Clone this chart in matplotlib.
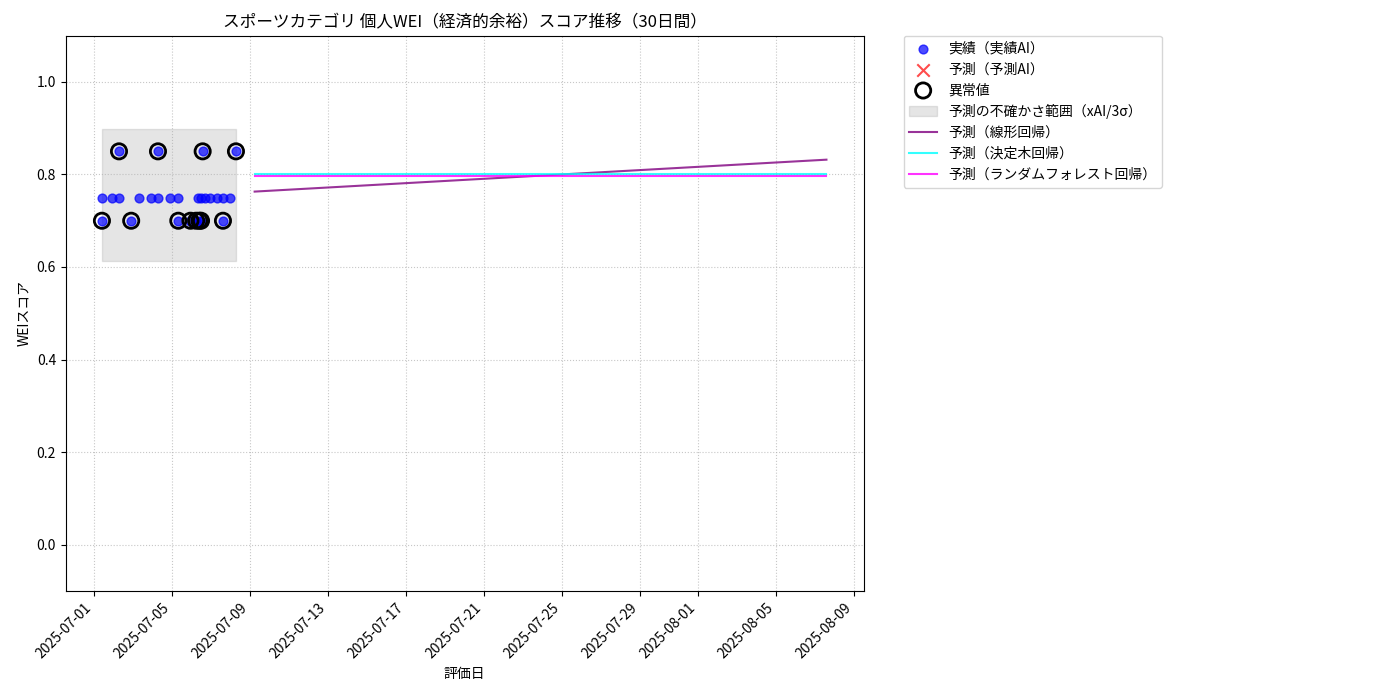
import pandas as pd
import matplotlib.pyplot as plt
import matplotlib.dates as mdates

plt.rcParams['font.family'] = ['Noto Sans CJK JP', 'DejaVu Sans']

# 実績データ
actual_dates = ['2025-07-01 10:00', '2025-07-01 22:00', '2025-07-02 07:00', '2025-07-02 07:00',
                '2025-07-02 22:00', '2025-07-03 08:00', '2025-07-03 23:00', '2025-07-04 07:00',
                '2025-07-04 07:00', '2025-07-04 22:00', '2025-07-05 08:00', '2025-07-05 08:00',
                '2025-07-05 23:00', '2025-07-06 06:00', '2025-07-06 08:00', '2025-07-06 10:00',
                '2025-07-06 12:00', '2025-07-06 12:00', '2025-07-06 14:00', '2025-07-06 17:00',
                '2025-07-06 23:00', '2025-07-07 08:00', '2025-07-07 15:00', '2025-07-07 15:00',
                '2025-07-08 00:00', '2025-07-08 07:00', '2025-07-01 10:00']
actual_values = [0.75, 0.75, 0.75, 0.85,
                 0.70, 0.75, 0.75, 0.75,
                 0.85, 0.75, 0.75, 0.70,
                 0.70, 0.70, 0.75, 0.70,
                 0.75, 0.70, 0.85, 0.75,
                 0.75, 0.75, 0.75, 0.70,
                 0.75, 0.85, 0.70]
outlier_dates = ['2025-07-01 10:00', '2025-07-02 07:00', '2025-07-02 22:00', '2025-07-04 07:00',
                 '2025-07-05 08:00', '2025-07-05 23:00', '2025-07-06 06:00', '2025-07-06 10:00',
                 '2025-07-06 12:00', '2025-07-06 14:00', '2025-07-07 15:00', '2025-07-08 07:00']
outlier_values = [0.70, 0.85, 0.70, 0.85, 0.70, 0.70, 0.70, 0.70, 0.70, 0.85, 0.70, 0.85]

band_dates = ['2025-07-01 10:00', '2025-07-08 07:00']
band_low = [0.614, 0.614]
band_high = [0.898, 0.898]

pred_dates = ['2025-07-09 06:00', '2025-08-07 14:00']
pred_linear = [0.763, 0.832]
pred_tree = [0.800, 0.800]
pred_rf = [0.797, 0.797]

ad = pd.to_datetime(actual_dates)
od = pd.to_datetime(outlier_dates)
bd = pd.to_datetime(band_dates)
pdts = pd.to_datetime(pred_dates)

fig = plt.figure(figsize=(14, 7), dpi=100)
ax = fig.add_axes([0.047, 0.156, 0.57, 0.793])

ax.scatter(ad, actual_values, color='blue', alpha=0.7, s=40, label='実績（実績AI）', zorder=3)
ax.scatter([], [], color='red', marker='x', alpha=0.7, s=80, label='予測（予測AI）')
ax.scatter(od, outlier_values, facecolors='none', edgecolors='black', s=120, linewidths=2,
           label='異常値', zorder=4)
ax.fill_between(bd, band_low, band_high, color='gray', alpha=0.2, label='予測の不確かさ範囲（xAI/3σ）')
ax.plot(pdts, pred_linear, color='purple', alpha=0.8, label='予測（線形回帰）')
ax.plot(pdts, pred_tree, color='cyan', alpha=0.8, label='予測（決定木回帰）')
ax.plot(pdts, pred_rf, color='magenta', alpha=0.8, label='予測（ランダムフォレスト回帰）')

ax.set_ylim(-0.1, 1.1)
ax.set_xlim(pd.Timestamp('2025-06-29 13:30'), pd.Timestamp('2025-08-09 12:00'))
ax.xaxis.set_major_locator(mdates.DayLocator(bymonthday=[1, 5, 9, 13, 17, 21, 25, 29]))
ax.xaxis.set_major_formatter(mdates.DateFormatter('%Y-%m-%d'))
plt.setp(ax.get_xticklabels(), rotation=45, ha='right')
ax.grid(True, linestyle=':', alpha=0.7)
ax.set_title('スポーツカテゴリ 個人WEI（経済的余裕）スコア推移（30日間）', fontsize=12)
ax.set_xlabel('評価日')
ax.set_ylabel('WEIスコア')
ax.legend(loc='upper left', bbox_to_anchor=(1.05, 1.0), borderaxespad=0.)

fig.savefig('out.png')
